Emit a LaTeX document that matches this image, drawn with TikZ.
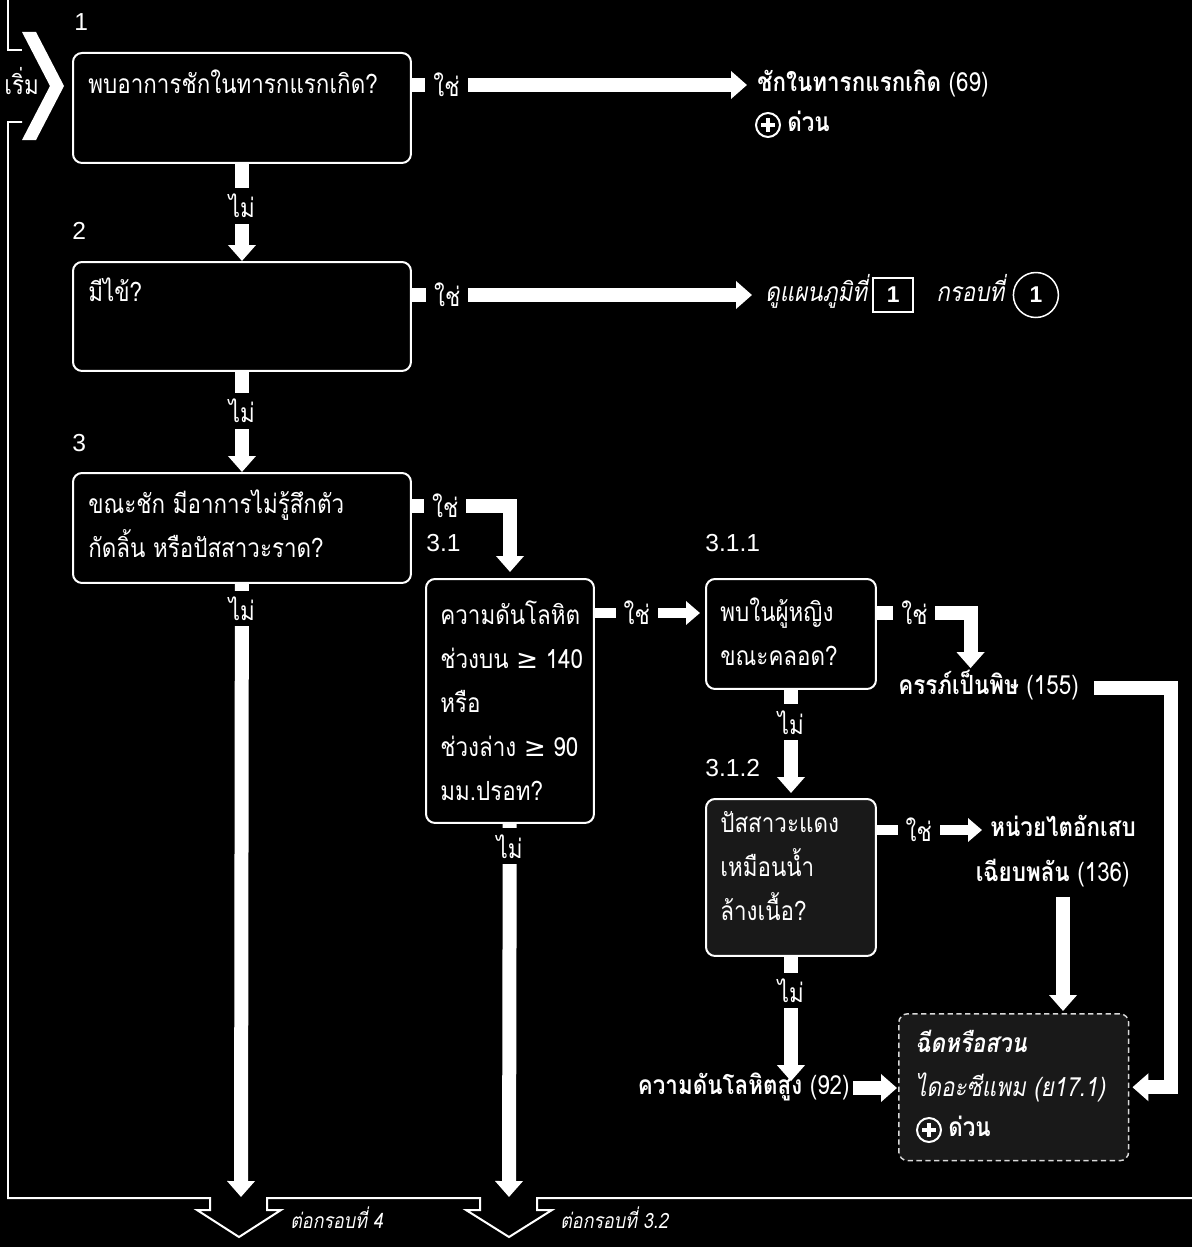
\documentclass[tikz,border=0pt]{standalone}
\usepackage{fontspec}
\usetikzlibrary{positioning,arrows.meta}

\newfontfamily\thai[Script=Thai, FakeStretch=0.85]{Loma}
\newfontfamily\symfont{DejaVu Sans}
\newfontfamily\numfont{Liberation Sans}

\tikzset{
  qbox/.style={draw=white, line width=0.04cm, rounded corners=0.18cm, anchor=north west, inner sep=0pt},
  shaded/.style={fill=white!10!black},
  txt/.style={text=white, inner sep=0pt, anchor=west, text height=0.26cm, text depth=0pt,
    font=\thai\fontsize{15}{25}\selectfont},
  para/.style={text=white, inner sep=0pt, anchor=base west, align=left,
    font=\thai\fontsize{15}{25}\selectfont},
  stepnum/.style={txt, font=\numfont\fontsize{14}{16}\selectfont},
  small/.style={txt, font=\thai\fontsize{12}{13}\selectfont\itshape},
  frame/.style={white, line width=0.04cm},
  flow/.style={white, line width=0.28cm, -{Triangle[width=0.54cm,length=0.32cm]}},
  thinflow/.style={white, line width=0.2cm, -{Triangle[width=0.46cm,length=0.28cm]}},
  yes/.style={fill=black, text=white, inner xsep=0.16cm, inner ysep=0.12cm,
    font=\thai\fontsize{15}{18}\selectfont},
  no/.style={yes, inner xsep=0.1cm},
  numbox/.style={draw=white, line width=0.03cm, text=white, minimum width=0.8cm,
    minimum height=0.68cm, inner sep=0pt, font=\numfont\bfseries\fontsize{13}{14}\selectfont},
  numcirc/.style={numbox, circle, minimum size=0.9cm},
  plus/.style={draw=white, circle, line width=0.04cm, minimum size=0.48cm, inner sep=0pt,
    path picture={
      \draw[white, line width=0.07cm]
        ([xshift=-0.14cm]path picture bounding box.center) -- ([xshift=0.14cm]path picture bounding box.center)
        ([yshift=-0.14cm]path picture bounding box.center) -- ([yshift=0.14cm]path picture bounding box.center);
    }}
}

\begin{document}
\begin{tikzpicture}[x=0.02cm, y=-0.02cm]
\path[use as bounding box, fill=black] (0,0) rectangle (1192,1247);

% outer frame, start mark and the two exits
\draw[frame] (8,0) -- (8,50) -- (22,50);
\fill[white] (22,32) -- (36,32) -- (64,86) -- (36,140) -- (22,140) -- (50,86) -- cycle;
\draw[frame] (22,122) -- (8,122) -- (8,1198) -- (210,1198) -- (210,1210) -- (197,1210)
  -- (239,1237) -- (281,1210) -- (267,1210) -- (267,1198) -- (480,1198) -- (480,1210)
  -- (466,1210) -- (509,1237) -- (552,1210) -- (537,1210) -- (537,1198) -- (1192,1198);
\node[txt] (start) at (4,88) {เริ่ม};
\coordinate (exit4) at (241,1197);
\coordinate (exit32) at (509,1197);
\node[small] (next4) at (290,1222) {ต่อกรอบที่ 4};
\node[small] (next32) at (560,1222) {ต่อกรอบที่ 3.2};

% boxes
\node[qbox, minimum width=6.76cm, minimum height=2.2cm] (q1) at (72,52) {};
\node[qbox, minimum width=6.76cm, minimum height=2.18cm] (q2) at (72,261) {};
\node[qbox, minimum width=6.76cm, minimum height=2.2cm] (q3) at (72,472) {};
\node[qbox, minimum width=3.36cm, minimum height=4.88cm] (q31) at (425,578) {};
\node[qbox, minimum width=3.4cm, minimum height=2.2cm] (q311) at (705,578) {};
\node[qbox, shaded, minimum width=3.4cm, minimum height=3.14cm] (q312) at (705,798) {};
\node[qbox, shaded, draw=white!85!black, densely dashed, line width=0.03cm,
  minimum width=4.6cm, minimum height=2.94cm] (act) at (898,1013) {};

% step numbers
\node[stepnum] (n1) at (74,24) {1};
\node[stepnum] (n2) at (72,233) {2};
\node[stepnum] (n3) at (72,445) {3};
\node[stepnum] (n31) at (426,545) {3.1};
\node[stepnum] (n311) at (705,545) {3.1.1};
\node[stepnum] (n312) at (705,770) {3.1.2};

% questions (placed by the baseline of their last line)
\node[para] (t1) at (88,93) {พบอาการชักในทารกแรกเกิด?};
\node[para] (t2) at (88,301) {มีไข้?};
\node[para] (t3) at (88,557) {ขณะชัก มีอาการไม่รู้สึกตัว\\กัดลิ้น หรือปัสสาวะราด?};
\node[para] (t31) at (440,800) {ความดันโลหิต\\ช่วงบน {\symfont ≥} 140\\หรือ\\ช่วงล่าง {\symfont ≥} 90\\มม.ปรอท?};
\node[para] (t311) at (720,665) {พบในผู้หญิง\\ขณะคลอด?};
\node[para] (t312) at (720,920) {ปัสสาวะแดง\\เหมือนน้ำ\\ล้างเนื้อ?};
\node[para] (tact) at (915,1096) {\itshape\bfseries ฉีดหรือสวน\\\itshape ไดอะซีแพม (ย17.1)};
\node[plus] (u2) at (929,1130) {};
\node[txt, right=0.12cm of u2] (d2) {\bfseries ด่วน};

% outcomes
\node[txt] (r1) at (757,85) {\bfseries ชักในทารกแรกเกิด\mdseries{} (69)};
\node[plus] (u1) at (768,125) {};
\node[txt, right=0.12cm of u1] (d1) {\bfseries ด่วน};
\node[txt] (r2) at (765,295) {\itshape ดูแผนภูมิที่};
\node[numbox, right=0.1cm of r2] (b2) {1};
\node[txt, right=0.44cm of b2] (g2) {\itshape กรอบที่};
\node[numcirc, right=0.16cm of g2] (c2) {1};
\node[txt] (r311) at (898,688) {\bfseries ครรภ์เป็นพิษ\mdseries{} (155)};
\node[txt] (r312a) at (990,830) {\bfseries หน่วยไตอักเสบ};
\node[txt, anchor=east] (r312b) at (1130,875) {\bfseries เฉียบพลัน\mdseries{} (136)};
\node[txt, anchor=east] (r312c) at (850,1088) {\bfseries ความดันโลหิตสูง\mdseries{} (92)};

% no branches
\draw[flow] (q1) -- node[no, pos=.43] {ไม่} (q2);
\draw[flow] (q2) -- node[no, pos=.39] {ไม่} (q3);
\draw[flow] (q3) -- node[no, pos=.04] {ไม่} (exit4);
\draw[flow] (q31) -- node[no, pos=.06] {ไม่} (exit32);
\draw[flow, shorten >=0.1cm] (q311) -- node[no, pos=.3] {ไม่} (q312);
\draw[flow] (q312) -- node[no, pos=.27] {ไม่} (q312.south |- r312c.north);

% yes branches
\draw[flow, shorten >=0.2cm] (q1.east |- r1) -- node[yes, pos=.1] {ใช่} (r1);
\draw[flow, shorten >=0.26cm] (q2.east |- r2) -- node[yes, pos=.1] {ใช่} (r2);
\draw[flow, shorten >=0.12cm] ([yshift=0.44cm]q3.east) -| node[yes, pos=.17] {ใช่} (q31);
\draw[thinflow, shorten >=0.1cm] ([yshift=-0.7cm]q31.north east)
  -- node[yes, pos=.38] {ใช่} ([yshift=-0.7cm]q311.north west);
\draw[flow, shorten >=0.26cm] ([yshift=-0.7cm]q311.north east)
  -| node[yes, pos=.2] {ใช่} ([xshift=-0.36cm]r311.north);
\draw[thinflow, shorten >=0.16cm] (q312.east |- r312a) -- node[yes, pos=.37] {ใช่} (r312a);

% into the treatment box
\draw[flow, shorten <=0.3cm, shorten >=0.06cm] (r311.east)
  -| ([xshift=0.84cm]act.east) -- (act.east);
\draw[flow, shorten <=0.3cm, shorten >=0.04cm] (r312b.south -| r312a) -- (act.north -| r312a);
\draw[flow, shorten <=0.06cm, shorten >=0.02cm] (r312c.east) -- (act.west |- r312c);
\end{tikzpicture}
\end{document}
